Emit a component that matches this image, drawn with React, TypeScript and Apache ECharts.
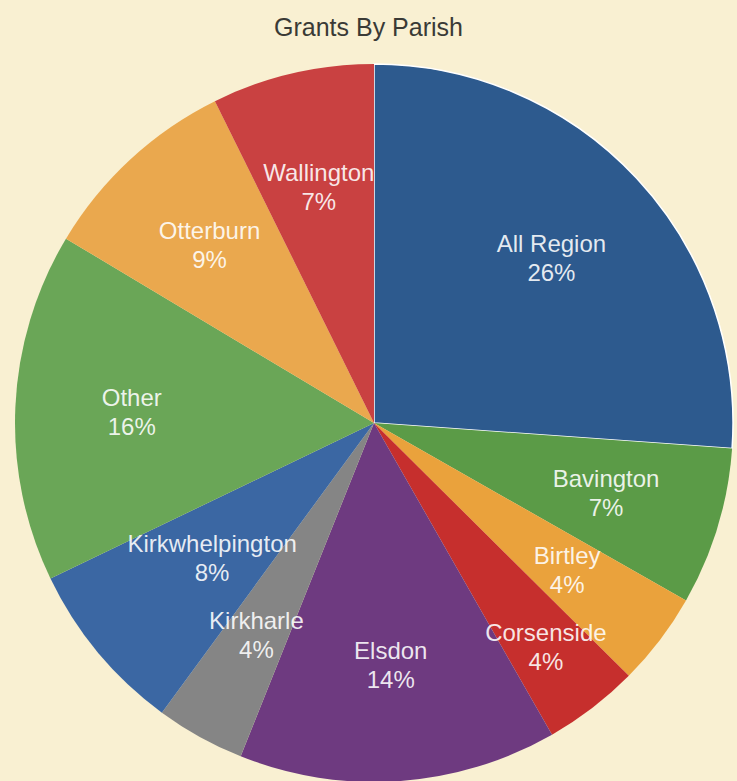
import React, { useEffect, useRef } from "react";
import * as echarts from "echarts";

const TITLE = "Grants By Parish";
const parishes = [
  "All Region",
  "Bavington",
  "Birtley",
  "Corsenside",
  "Elsdon",
  "Kirkharle",
  "Kirkwhelpington",
  "Other",
  "Otterburn",
  "Wallington",
];
const shares = [26.1, 7.1, 4.2, 4.3, 14.3, 4.0, 7.8, 15.7, 9.1, 7.3];
const sliceColors = [
  "#2d5a8e",
  "#5b9b47",
  "#eaa23c",
  "#c62f2d",
  "#6e3a80",
  "#858585",
  "#3b67a3",
  "#6aa657",
  "#eaa84e",
  "#c94141",
];

const CENTER = [374, 423];
// radial label nudges (px) to mimic best-fit label placement
const radialNudge: Record<string, number> = { Corsenside: 40, Kirkwhelpington: -32 };

export default function App() {
  const ref = useRef<HTMLDivElement>(null);
  useEffect(() => {
    document.body.style.margin = "0";
    if (!ref.current) return;
    const chart = echarts.init(ref.current, null, { renderer: "svg" });
    const data = parishes.map((name, i) => ({
      name,
      value: shares[i],
      itemStyle:
        i === 0
          ? { color: sliceColors[i], borderColor: "#ffffff", borderWidth: 1.5 }
          : { color: sliceColors[i] },
    }));
    const labelData = parishes.map((name, i) => ({ name, value: shares[i] }));
    chart.setOption({
      animation: false,
      backgroundColor: "#f9f0d2",
      title: {
        text: TITLE,
        left: "center",
        top: 9,
        textStyle: {
          fontFamily: "Liberation Sans, Arial, sans-serif",
          fontSize: 25,
          fontWeight: "normal",
          color: "#3a3a36",
        },
      },
      series: [
        {
          type: "pie",
          center: CENTER,
          radius: 359,
          startAngle: 90,
          clockwise: true,
          silent: true,
          label: { show: false },
          labelLine: { show: false },
          data,
        },
        {
          type: "pie",
          center: CENTER,
          radius: [120, 359],
          startAngle: 90,
          clockwise: true,
          silent: true,
          avoidLabelOverlap: false,
          labelLayout: (params: any) => {
            const name = parishes[params.dataIndex];
            const n = radialNudge[name];
            if (!n) return { hideOverlap: false };
            const r = params.labelRect;
            const cx = r.x + r.width / 2 - CENTER[0];
            const cy = r.y + r.height / 2 - CENTER[1];
            const len = Math.sqrt(cx * cx + cy * cy) || 1;
            return { hideOverlap: false, dx: (cx / len) * n, dy: (cy / len) * n };
          },
          itemStyle: { color: "rgba(0,0,0,0)", borderWidth: 0 },
          label: {
            show: true,
            position: "inside",
            formatter: (p: any) => `${p.name}\n${Math.round(p.percent)}%`,
            fontFamily: "Liberation Sans, Arial, sans-serif",
            fontSize: 24,
            lineHeight: 29,
            color: "rgba(255,255,255,0.88)",
            align: "center",
          },
          labelLine: { show: false },
          data: labelData,
        },
      ],
    });
    return () => chart.dispose();
  }, []);
  return <div ref={ref} style={{ width: 737, height: 781 }} />;
}
